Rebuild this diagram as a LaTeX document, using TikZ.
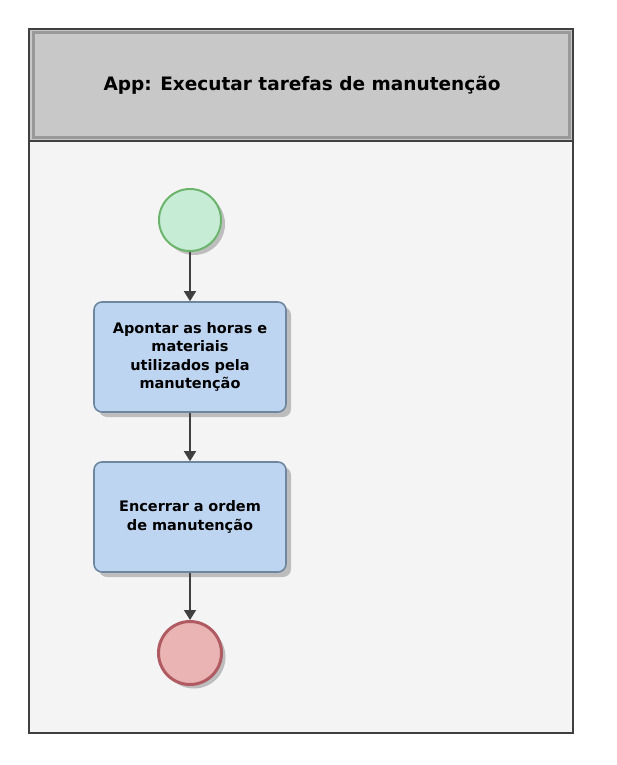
\documentclass[tikz,border=0pt]{standalone}
\usepackage{fontspec}
\setmainfont{DejaVu Sans}
\usetikzlibrary{arrows.meta,shadows,positioning}
\definecolor{frame}{HTML}{404040}
\definecolor{bodybg}{HTML}{F4F4F4}
\definecolor{headbg}{HTML}{C8C8C8}
\definecolor{taskfill}{HTML}{BED5F2}
\definecolor{taskdraw}{HTML}{6F86A0}
\definecolor{startfill}{HTML}{C7ECD6}
\definecolor{startdraw}{HTML}{6CB46C}
\definecolor{endfill}{HTML}{EAB4B4}
\definecolor{enddraw}{HTML}{B05A62}
\definecolor{shade}{HTML}{BDBDBD}
\definecolor{conn}{HTML}{404040}
\tikzset{
  taskbox/.style={rectangle, rounded corners=8pt, minimum width=192pt, minimum height=110pt,
    fill=taskfill, draw=taskdraw, line width=1.6pt, align=center, text width=180pt,
    font=\fontsize{14.5}{18.5}\selectfont\bfseries,
    drop shadow={shadow xshift=5pt, shadow yshift=-5pt, fill=shade, opacity=1}},
  startev/.style={circle, minimum size=62pt, inner sep=0pt, fill=startfill, draw=startdraw, line width=2pt,
    drop shadow={shadow xshift=4pt, shadow yshift=-4pt, fill=shade, opacity=1}},
  endev/.style={circle, minimum size=63pt, inner sep=0pt, fill=endfill, draw=enddraw, line width=3pt,
    drop shadow={shadow xshift=4pt, shadow yshift=-4pt, fill=shade, opacity=1}},
  flow/.style={draw=conn, line width=1.5pt, -{Triangle[length=10pt,width=12pt]}}
}
\begin{document}
\begin{tikzpicture}[x=1pt,y=-1pt]
\useasboundingbox (0,0) rectangle (616,765);
% lane body
\fill[bodybg] (29,141) rectangle (573,733);
% header
\fill[headbg] (29,29) rectangle (573,141);
\draw[gray!80, line width=3pt] (33,33) rectangle (569,137);
\fill[headbg] (35,35) rectangle (567,135);
\node[font=\fontsize{18.5}{22}\selectfont\bfseries] (title) at (302,85) {App: Executar tarefas de manutenção};
\draw[frame, line width=2.5pt] (29,141) -- (573,141);
\draw[frame, line width=2pt] (29,29) rectangle (573,733);
% nodes
\node[startev] (start) at (190,220) {};
\node[taskbox] (t1) at (190,357) {Apontar as horas e\\materiais\\utilizados pela\\manutenção};
\node[taskbox] (t2) at (190,517) {Encerrar a ordem\\de manutenção};
\node[endev] (end) at (190,653) {};
% flows
\draw[flow] (start) -- (t1);
\draw[flow] (t1) -- (t2);
\draw[flow] (t2) -- (end);
\end{tikzpicture}
\end{document}
